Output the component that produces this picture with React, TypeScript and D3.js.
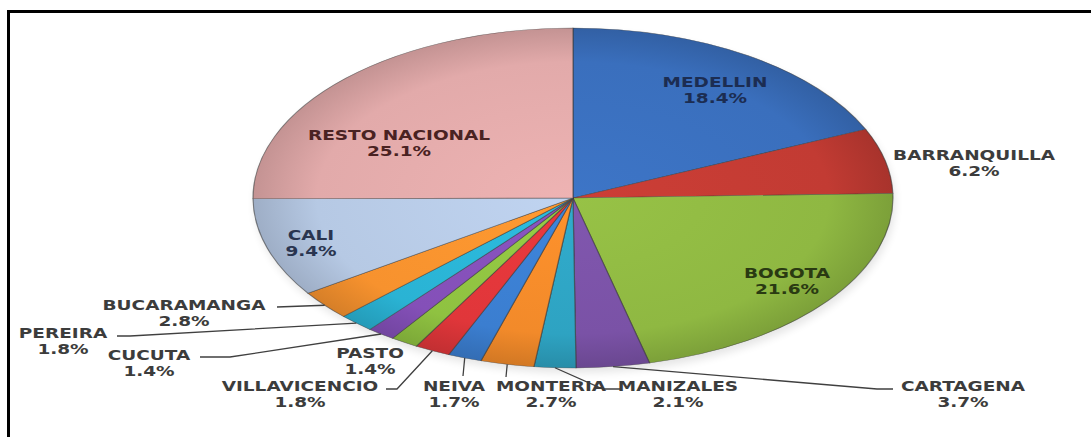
import React from "react";
import * as d3 from "d3";

const cities = ["MEDELLIN", "BARRANQUILLA", "BOGOTA", "CARTAGENA", "MANIZALES", "MONTERIA", "NEIVA", "VILLAVICENCIO", "PASTO", "CUCUTA", "PEREIRA", "BUCARAMANGA", "CALI", "RESTO NACIONAL"];
const shares = [18.4, 6.2, 21.6, 3.7, 2.1, 2.7, 1.7, 1.8, 1.4, 1.4, 1.8, 2.8, 9.4, 25.1];
const shareLabels = ["18.4%", "6.2%", "21.6%", "3.7%", "2.1%", "2.7%", "1.7%", "1.8%", "1.4%", "1.4%", "1.8%", "2.8%", "9.4%", "25.1%"];

// styles
const sliceColors = ["#3a6fbd", "#c23b33", "#8fb842", "#7a52a6", "#2ea3c2", "#f28a2a", "#3b7ed0", "#e0363a", "#8fc241", "#8450b8", "#2ab3d4", "#f7922e", "#b6c9e4", "#e2aaaa"];
const textColors = ["#1c2d52", "#3c3c3c", "#2a3a12", "#3c3c3c", "#3c3c3c", "#3c3c3c", "#3c3c3c", "#3c3c3c", "#3c3c3c", "#3c3c3c", "#3c3c3c", "#3c3c3c", "#2a3550", "#4a2222"];

// label layout: centre x, centre y of first line, leader elbow points
const labelLayout: { x: number; y: number; leader: [number, number][] | null }[] = [
  { x: 715, y: 82, leader: null },
  { x: 974, y: 155, leader: null },
  { x: 787, y: 273, leader: null },
  { x: 963, y: 386, leader: [[877, 389], [893, 389]] },
  { x: 678, y: 386, leader: [[603, 389], [620, 389]] },
  { x: 551, y: 386, leader: [[506, 377]] },
  { x: 454, y: 386, leader: [[463, 376]] },
  { x: 300, y: 386, leader: [[397, 389], [386, 389]] },
  { x: 370, y: 353, leader: null },
  { x: 149, y: 355, leader: [[230, 357], [200, 357]] },
  { x: 63, y: 333, leader: [[130, 336], [117, 336]] },
  { x: 184, y: 305, leader: [[277, 307]] },
  { x: 311, y: 235, leader: null },
  { x: 399, y: 135, leader: null },
];

const CX = 573;
const CY = 198;
const R = 320;
const SY = 170 / 320;

export default function App() {
  const pie = d3.pie<number>().value((d) => d).sort(null);
  const arcs = pie(shares);
  const arcGen = d3.arc<d3.PieArcDatum<number>>().innerRadius(0).outerRadius(R);

  const edgePoint = (a: d3.PieArcDatum<number>): [number, number] => {
    const m = (a.startAngle + a.endAngle) / 2;
    return [CX + Math.sin(m) * R, CY - Math.cos(m) * R * SY];
  };

  return (
    <div style={{ position: "absolute", left: 0, top: 0 }}>
      <svg width={1091} height={437} style={{ display: "block", background: "#fff" }}>
        <defs>
          {sliceColors.map((c, i) => {
            const base = d3.color(c)!;
            return (
              <radialGradient key={i} id={`g${i}`} gradientUnits="userSpaceOnUse" cx={0} cy={0} r={R}>
                <stop offset="0%" stopColor={base.brighter(0.15).formatHex()} />
                <stop offset="80%" stopColor={c} />
                <stop offset="100%" stopColor={base.darker(0.4).formatHex()} />
              </radialGradient>
            );
          })}
          <filter id="blur" x="-10%" y="-10%" width="120%" height="130%">
            <feGaussianBlur stdDeviation="4" />
          </filter>
        </defs>
        <rect x={8.5} y={11.5} width={1100} height={440} fill="none" stroke="#000" strokeWidth={3} />
        <ellipse cx={CX + 2} cy={CY + 5} rx={R} ry={R * SY} fill="#000" opacity={0.1} filter="url(#blur)" />
        <g transform={`translate(${CX},${CY}) scale(1,${SY})`}>
          {arcs.map((a, i) => (
            <path key={i} d={arcGen(a) || ""} fill={`url(#g${i})`} stroke="#3a3a3a" strokeOpacity={0.6} strokeWidth={1.2} />
          ))}
        </g>
        {arcs.map((a, i) => {
          const L = labelLayout[i];
          if (!L.leader) return null;
          const pts = [edgePoint(a), ...L.leader];
          return <path key={i} d={d3.line()(pts) || ""} fill="none" stroke="#404040" strokeWidth={1.3} />;
        })}
        {cities.map((c, i) => {
          const L = labelLayout[i];
          return (
            <g key={c} transform={`translate(${L.x},${L.y}) scale(1.32,1)`} fontFamily="DejaVu Sans" fontWeight="bold" fontSize={14} fill={textColors[i]} textAnchor="middle">
              <text x={0} y={5}>{c}</text>
              <text x={0} y={21}>{shareLabels[i]}</text>
            </g>
          );
        })}
      </svg>
    </div>
  );
}
